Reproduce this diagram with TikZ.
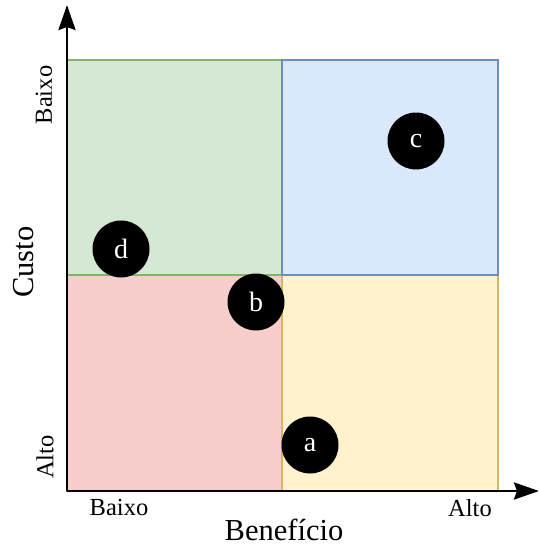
\documentclass[tikz,border=0pt]{standalone}
\usepackage{fontspec}
\setmainfont{Liberation Serif}
\usepackage{tikz}
\usetikzlibrary{arrows.meta,positioning}
\definecolor{greenfill}{HTML}{D5E8D4}
\definecolor{greenline}{HTML}{82B366}
\definecolor{bluefill}{HTML}{DAE8FC}
\definecolor{blueline}{HTML}{6C8EBF}
\definecolor{redfill}{HTML}{F8CECC}
\definecolor{redline}{HTML}{B85450}
\definecolor{yellowfill}{HTML}{FFF2CC}
\definecolor{yellowline}{HTML}{D6B656}
\tikzstyle{axis} = [line width=2.8pt,-{Stealth[length=25pt,width=17pt,inset=3pt]}]

\begin{document}
\begin{tikzpicture}[x=1pt, y=-1pt,
    quad/.style={rectangle, line width=2.2pt, minimum width=215.5pt, minimum height=215.5pt, inner sep=0pt},
    item/.style={circle, fill=black, text=white, minimum size=57pt, inner sep=0pt, font=\fontsize{28}{32}\selectfont},
    tick/.style={font=\fontsize{24.5}{28}\selectfont},
    title/.style={font=\fontsize{30.5}{34}\selectfont}
]
\useasboundingbox (0,0) rectangle (540,546);

% the four quadrants
\node[quad, fill=redfill, draw=redline] (lowlow) at (174.5,383) {};
\node[quad, fill=yellowfill, draw=yellowline] (highlow) at (390,383) {};
\node[quad, fill=greenfill, draw=greenline] (lowhigh) at (174.5,167.5) {};
\node[quad, fill=bluefill, draw=blueline] (highhigh) at (390,167.5) {};

% axes
\coordinate (origin) at (67,491);
\coordinate (ytip) at (67,5);
\coordinate (xtip) at (539,491);
\draw[axis] (origin) -- (ytip);
\draw[axis] (origin) -- (xtip);

% axis labels
\node[tick] (xlow) at (119,508) {Baixo};
\node[tick] (xhigh) at (470,508) {Alto};
\node[title] (xtitle) at (284,530) {Benefício};
\node[tick, rotate=90] (yhigh) at (44,95) {Baixo};
\node[tick, rotate=90] (ylow) at (45,457) {Alto};
\node[title, rotate=90] (ytitle) at (24,262) {Custo};

% items
\node[item] (a) at (310,445) {a};
\node[item] (b) at (256,302) {b};
\node[item] (c) at (416,141) {c};
\node[item] (d) at (121,249) {d};

\end{tikzpicture}
\end{document}
